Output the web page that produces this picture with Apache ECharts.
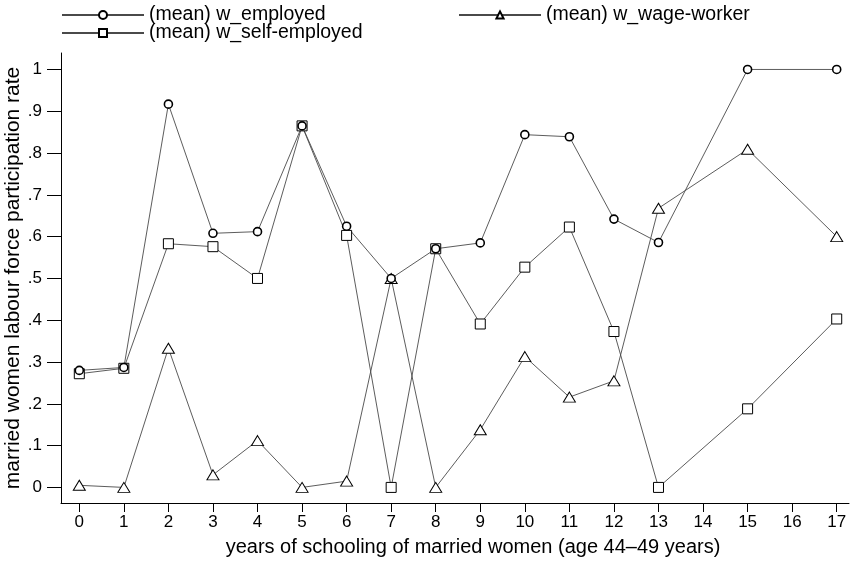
<!DOCTYPE html>
<html>
<head>
<meta charset="utf-8">
<script src="https://cdn.jsdelivr.net/npm/echarts@6/dist/echarts.min.js"></script>
<style>
  html, body { margin: 0; padding: 0; background: #fff; }
  #chart { width: 850px; height: 562px; }
</style>
</head>
<body>
<div id="chart"></div>
<script>
// Years of schooling (x) and mean participation rates by group
const schooling = [0, 1, 2, 3, 4, 5, 6, 7, 8, 9, 10, 11, 12, 13, 15, 17];
const employed = [0.280, 0.287, 0.917, 0.608, 0.612, 0.865, 0.625, 0.500, 0.571, 0.585, 0.844, 0.839, 0.642, 0.586, 1.000, 1.000];
const wageWorker = [0.005, 0.000, 0.333, 0.030, 0.112, 0.000, 0.015, 0.500, 0.000, 0.138, 0.313, 0.216, 0.255, 0.668, 0.809, 0.600];
const selfEmployed = [0.272, 0.285, 0.583, 0.576, 0.500, 0.865, 0.603, 0.000, 0.571, 0.391, 0.527, 0.623, 0.373, 0.000, 0.188, 0.403];

const xTickValues = [0, 1, 2, 3, 4, 5, 6, 7, 8, 9, 10, 11, 12, 13, 14, 15, 16, 17];
const yTickValues = [0, 0.1, 0.2, 0.3, 0.4, 0.5, 0.6, 0.7, 0.8, 0.9, 1];
const yTickLabels = ['0', '.1', '.2', '.3', '.4', '.5', '.6', '.7', '.8', '.9', '1'];

const seriesNames = ['(mean) w_employed', '(mean) w_wage-worker', '(mean) w_self-employed'];

const FONT = 'Liberation Sans, Arial, sans-serif';

function pairs(ys) {
  return schooling.map((x, i) => [x, ys[i]]);
}

const lineStyle = { color: '#4a4a4a', width: 0.9 };

const chart = echarts.init(document.getElementById('chart'), null, { renderer: 'canvas' });

const legendBase = {
  orient: 'horizontal',
  itemWidth: 82,
  itemGap: 0,
  padding: 0,
  textStyle: { color: '#000', fontSize: 19.5, fontFamily: FONT }
};

chart.setOption({
  animation: false,
  backgroundColor: '#fff',
  grid: { left: 61, right: 1, top: 53, bottom: 59, containLabel: false, outerBoundsMode: 'none' },
  legend: [
    Object.assign({}, legendBase, { data: [seriesNames[0]], left: 61, top: 5, itemHeight: 10 }),
    Object.assign({}, legendBase, { data: [seriesNames[1]], left: 458, top: 5, itemHeight: 9 }),
    Object.assign({}, legendBase, { data: [seriesNames[2]], left: 61, top: 23, itemHeight: 10 })
  ],
  xAxis: {
    type: 'value',
    min: -0.4107,
    max: 17.276,
    name: 'years of schooling of married women (age 44\u201349 years)',
    nameLocation: 'middle',
    nameGap: 34,
    nameMoveOverlap: false,
    nameTextStyle: { color: '#000', fontSize: 20, fontFamily: FONT, padding: [0, 0, 0, 36] },
    axisLine: { show: true, onZero: false, lineStyle: { color: '#000', width: 1 } },
    axisTick: { show: true, length: 9, customValues: xTickValues, lineStyle: { color: '#000', width: 1 } },
    axisLabel: { customValues: xTickValues, color: '#000', fontSize: 17, fontFamily: FONT, margin: 11 },
    splitLine: { show: false }
  },
  yAxis: {
    type: 'value',
    min: -0.0373,
    max: 1.0394,
    name: 'married women labour force participation rate',
    nameLocation: 'middle',
    nameRotate: 90,
    nameGap: 37,
    nameMoveOverlap: false,
    nameTextStyle: { color: '#000', fontSize: 21, fontFamily: FONT },
    axisLine: { show: true, onZero: false, lineStyle: { color: '#000', width: 1 } },
    axisTick: { show: true, length: 14, customValues: yTickValues, lineStyle: { color: '#000', width: 1 } },
    axisLabel: {
      customValues: yTickValues,
      color: '#000', fontSize: 17, fontFamily: FONT, margin: 19,
      formatter: function (v) {
        const i = yTickValues.findIndex(t => Math.abs(t - v) < 1e-9);
        return i >= 0 ? yTickLabels[i] : '';
      }
    },
    splitLine: { show: false }
  },
  series: [
    {
      name: seriesNames[2],
      type: 'line',
      data: pairs(selfEmployed),
      symbol: 'rect',
      symbolSize: 10,
      lineStyle: lineStyle,
      itemStyle: { color: '#fff', borderColor: '#000', borderWidth: 1 },
      emphasis: { disabled: true }
    },
    {
      name: seriesNames[1],
      type: 'line',
      data: pairs(wageWorker),
      symbol: 'triangle',
      symbolSize: [12, 10],
      lineStyle: lineStyle,
      itemStyle: { color: '#fff', borderColor: '#000', borderWidth: 1 },
      emphasis: { disabled: true }
    },
    {
      name: seriesNames[0],
      type: 'line',
      data: pairs(employed),
      symbol: 'circle',
      symbolSize: 8,
      lineStyle: lineStyle,
      itemStyle: { color: '#fff', borderColor: '#000', borderWidth: 1.6 },
      emphasis: { disabled: true }
    }
  ]
});
</script>
</body>
</html>
